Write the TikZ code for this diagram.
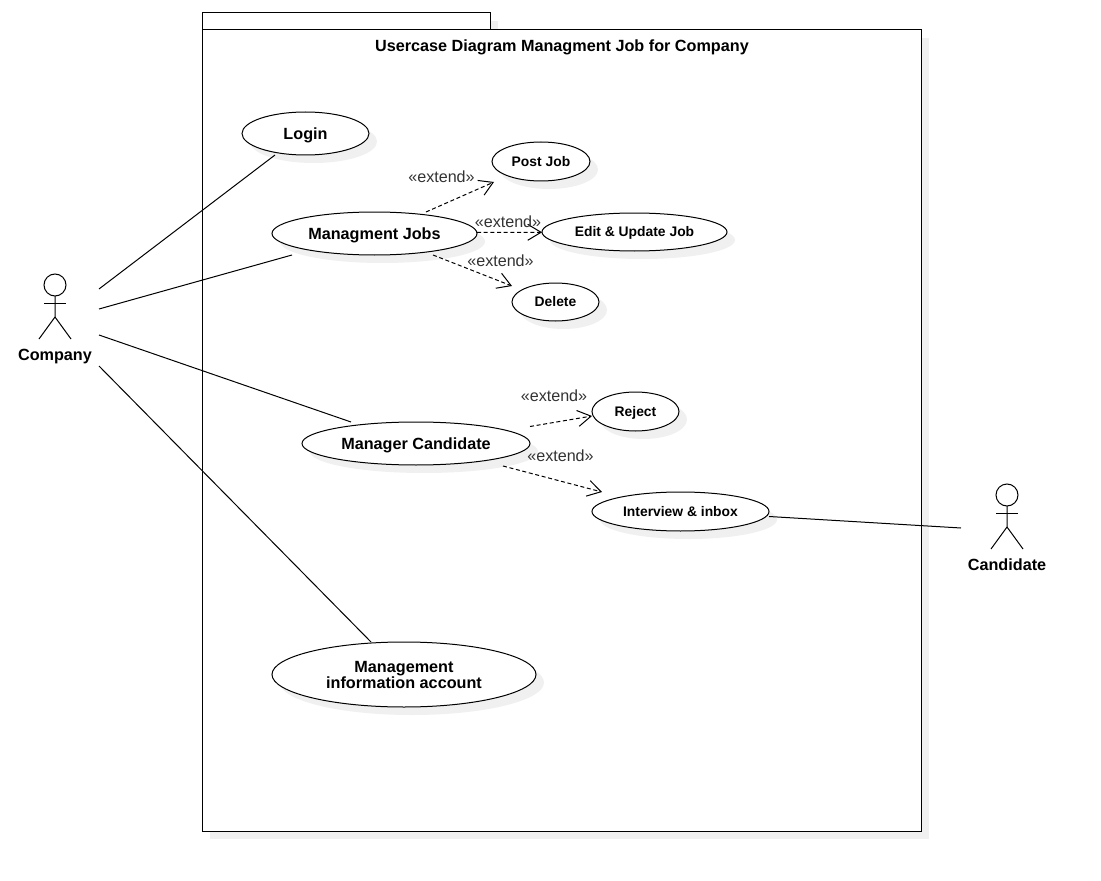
\documentclass[tikz,border=0pt]{standalone}
\usepackage{fontspec}
\setmainfont{Liberation Sans}
\usepackage{tikz}
\usetikzlibrary{shapes.geometric, shadows, calc, arrows.meta}

\begin{document}
\begin{tikzpicture}[
	x=.75pt, y=-.75pt,
	softShadow/.style={drop shadow={shadow xshift=6pt, shadow yshift=-6pt, opacity=1, fill=black!6}},
	useCase/.style 2 args={ellipse, draw, fill=white, softShadow, inner sep=0, outer sep=0, line width=.75pt, align=center, minimum width=#1*.75pt, minimum height=#2*.75pt, text height=8.7pt, text depth=0pt, font=\fontsize{12.15}{12}\selectfont\bfseries},
	smallCase/.style 2 args={useCase={#1}{#2}, text height=7.4pt, font=\fontsize{10.4}{12}\selectfont\bfseries},
	boxLine/.style={draw, fill=white, softShadow, line width=.75pt},
	bold/.style={text height=8.7pt, text depth=0pt, font=\fontsize{12.15}{12}\selectfont\bfseries},
	extLabel/.style={text=black!80, inner sep=0, font=\fontsize{12.1}{12}\selectfont},
	assoc/.style={line width=.75pt},
	extArrow/.style={densely dashed, line width=.75pt, -{Straight Barb[length=10pt, width=12pt]}}
	]
	
	\useasboundingbox (0, 0) rectangle (1101, 881);
	
	% Frame
	\path[boxLine] (202, 13) rectangle (490, 30);
	\path[boxLine] (202, 30) rectangle (921, 831);
	\node[bold] (title) at (562, 46) {Usercase Diagram Managment Job for Company};
	
	% Use cases
	\node[useCase={127}{43}] (login) at (305.5, 133.5) {Login};
	\node[useCase={205}{43}] (jobs) at (374.5, 233.5) {Managment Jobs};
	\node[useCase={228}{43}] (manager) at (416, 443.5) {Manager Candidate};
	\node[useCase={264}{65}, text height=, text depth=-1.5pt] (info) at (404, 674.5) {Management\\information account};
	\node[smallCase={98}{39}] (post) at (541, 161.5) {Post Job};
	\node[smallCase={185}{38}] (edit) at (634.5, 232) {Edit \& Update Job};
	\node[smallCase={87}{38}] (delete) at (555.5, 302) {Delete};
	\node[smallCase={87}{39}] (reject) at (635.5, 411.5) {Reject};
	\node[smallCase={177}{39}] (interview) at (680.5, 511.5) {Interview \& inbox};
	
	% Company
	\coordinate (CH) at (55, 285);
	\draw[assoc] (CH) circle (11);
	\draw[assoc] ($(CH) + (0, 11)$) -- ($(CH) + (0, 32)$) -- ($(CH) + (-16, 54)$);
	\draw[assoc] ($(CH) + (0, 32)$) -- ($(CH) + (16, 54)$);
	\draw[assoc] ($(CH) + (-11, 18)$) -- ($(CH) + (11, 18)$);
	\node[bold] (company) at (55, 355) {Company};
	
	% Candidate
	\coordinate (DH) at (1007, 495);
	\draw[assoc] (DH) circle (11);
	\draw[assoc] ($(DH) + (0, 11)$) -- ($(DH) + (0, 32)$) -- ($(DH) + (-16, 54)$);
	\draw[assoc] ($(DH) + (0, 32)$) -- ($(DH) + (16, 54)$);
	\draw[assoc] ($(DH) + (-11, 18)$) -- ($(DH) + (11, 18)$);
	\node[bold] (candidate) at (1007, 565) {Candidate};
	
	\coordinate (C1) at (99, 289);
	\coordinate (C2) at (99, 309);
	\coordinate (C3) at (99, 335);
	\coordinate (C4) at (99, 366);
	\coordinate (D1) at (961, 528);
	
	\draw[assoc] (C1) -- ($(login.south) + (-30.5, 0)$);
	\draw[assoc] (C2) -- ($(jobs.south) + (-82.5, 0)$);
	\draw[assoc] (C3) -- ($(manager.north) + (-65, 0)$);
	\draw[assoc] (C4) -- ($(info.north) + (-33, 0)$);
	\draw[assoc] ($(interview.east) + (0, 5)$) -- (D1);
	
	% Extends
	\draw[extArrow] ($(jobs.north) + (51.5, 0)$) -- ($(post.south) + (-47, 1)$);
	\draw[extArrow] ($(jobs.east) + (0, -1.2)$) -- ($(edit.west) + (0, .3)$);
	\draw[extArrow] ($(jobs.south) + (58.5, 0)$) -- ($(delete.west) + (0, -16)$);
	\draw[extArrow] ($(manager.east) + (0, -17)$) -- ($(reject.west) + (0, 4.5)$);
	\draw[extArrow] ($(manager.south) + (87, 1)$) -- ($(interview.north) + (-78.5, 0)$);
	
	\node[extLabel] (ext1) at (441.5, 177) {«extend»};
	\node[extLabel] (ext2) at (508, 222) {«extend»};
	\node[extLabel] (ext3) at (500.5, 261) {«extend»};
	\node[extLabel] (ext4) at (554, 396) {«extend»};
	\node[extLabel] (ext5) at (560.5, 456) {«extend»};
\end{tikzpicture}
\end{document}
